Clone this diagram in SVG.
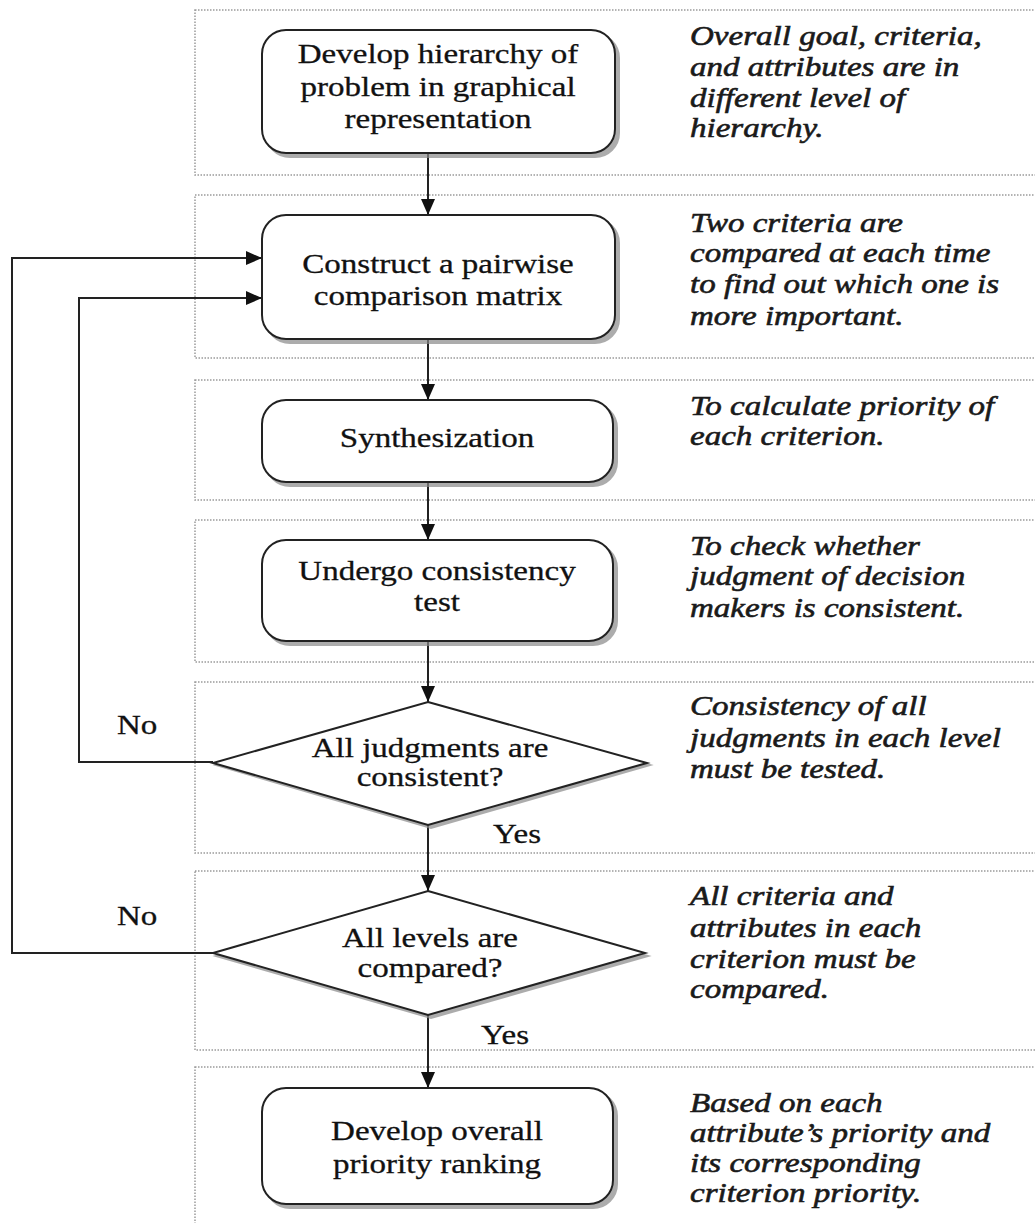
<svg xmlns="http://www.w3.org/2000/svg" width="1035" height="1223" viewBox="0 0 1035 1223">
<style>
.panel{fill:none;stroke:#9a9a9a;stroke-width:1.5;stroke-dasharray:1.5 1.5}
.box{fill:#fff;stroke:#222;stroke-width:2}
.shadow{fill:#8a8a8a;stroke:#8a8a8a;stroke-width:2;opacity:0.7}
.conn{fill:none;stroke:#222;stroke-width:2}
.nt{font-family:"Liberation Serif","Times New Roman",serif;font-size:28px;fill:#111;stroke:#111;stroke-width:0.3;text-anchor:middle}
.lbl{font-family:"Liberation Serif","Times New Roman",serif;font-size:28px;fill:#111;stroke:#111;stroke-width:0.3}
.note{font-family:"Liberation Serif","Times New Roman",serif;font-size:28px;font-style:italic;fill:#1a1a1a;stroke:#1a1a1a;stroke-width:0.6}
</style>
<defs>
<marker id="arr" markerWidth="16" markerHeight="14" refX="16" refY="7" orient="auto" markerUnits="userSpaceOnUse">
<path d="M0,0 L16,7 L0,14 Z" fill="#111"/>
</marker>
</defs>
<rect width="1035" height="1223" fill="#fff"/>
<g id="panels">
<rect class="panel" x="195" y="10" width="860" height="165"/>
<rect class="panel" x="195" y="195" width="860" height="163"/>
<rect class="panel" x="195" y="380" width="860" height="120"/>
<rect class="panel" x="195" y="520" width="860" height="142"/>
<rect class="panel" x="195" y="682" width="860" height="171"/>
<rect class="panel" x="195" y="871" width="860" height="179"/>
<rect class="panel" x="195" y="1067" width="860" height="180"/>
</g>
<g id="connectors">
<line class="conn" x1="428" y1="153" x2="428" y2="215" marker-end="url(#arr)"/>
<line class="conn" x1="428" y1="340" x2="428" y2="400" marker-end="url(#arr)"/>
<line class="conn" x1="428" y1="482" x2="428" y2="540" marker-end="url(#arr)"/>
<line class="conn" x1="428" y1="641" x2="428" y2="702" marker-end="url(#arr)"/>
<line class="conn" x1="428" y1="825" x2="428" y2="891" marker-end="url(#arr)"/>
<line class="conn" x1="428" y1="1015" x2="428" y2="1088" marker-end="url(#arr)"/>
<polyline class="conn" points="213,762 79,762 79,298 262,298" marker-end="url(#arr)"/>
<polyline class="conn" points="213,953 12,953 12,258 262,258" marker-end="url(#arr)"/>
</g>
<g id="node1">
<rect class="shadow" x="266" y="34" width="353" height="123" rx="24"/>
<rect class="box" x="262" y="30" width="353" height="123" rx="24"/>
<g transform="translate(438,0) scale(1.18,1)">
<text class="nt" x="0" y="63">Develop hierarchy of</text>
<text class="nt" x="0" y="96">problem in graphical</text>
<text class="nt" x="0" y="128">representation</text>
</g>
</g>
<g id="node2">
<rect class="shadow" x="266" y="219" width="353" height="124" rx="24"/>
<rect class="box" x="262" y="215" width="353" height="124" rx="24"/>
<g transform="translate(438,0) scale(1.18,1)">
<text class="nt" x="0" y="273">Construct a pairwise</text>
<text class="nt" x="0" y="305">comparison matrix</text>
</g>
</g>
<g id="node3">
<rect class="shadow" x="266" y="404" width="351" height="82" rx="24"/>
<rect class="box" x="262" y="400" width="351" height="82" rx="24"/>
<g transform="translate(437,0) scale(1.18,1)">
<text class="nt" x="0" y="447">Synthesization</text>
</g>
</g>
<g id="node4">
<rect class="shadow" x="266" y="544" width="351" height="101" rx="24"/>
<rect class="box" x="262" y="540" width="351" height="101" rx="24"/>
<g transform="translate(437,0) scale(1.18,1)">
<text class="nt" x="0" y="580">Undergo consistency</text>
<text class="nt" x="0" y="611">test</text>
</g>
</g>
<g id="node5">
<polygon class="shadow" points="429,705 650,765 431,828 216,765"/>
<polygon class="box" points="428,702 647,763 428,825 213,763"/>
<g transform="translate(430,0) scale(1.18,1)">
<text class="nt" x="0" y="757">All judgments are</text>
<text class="nt" x="0" y="786">consistent?</text>
</g>
</g>
<g id="node6">
<polygon class="shadow" points="429,894 648,956 431,1018 216,956"/>
<polygon class="box" points="428,891 645,953 428,1015 213,953"/>
<g transform="translate(430,0) scale(1.18,1)">
<text class="nt" x="0" y="947">All levels are</text>
<text class="nt" x="0" y="977">compared?</text>
</g>
</g>
<g id="node7">
<rect class="shadow" x="266" y="1092" width="351" height="116" rx="24"/>
<rect class="box" x="262" y="1088" width="351" height="116" rx="24"/>
<g transform="translate(437,0) scale(1.18,1)">
<text class="nt" x="0" y="1140">Develop overall</text>
<text class="nt" x="0" y="1173">priority ranking</text>
</g>
</g>
<g id="labels">
<g transform="translate(117,0) scale(1.18,1)"><text class="lbl" x="0" y="734">No</text></g>
<g transform="translate(117,0) scale(1.18,1)"><text class="lbl" x="0" y="925">No</text></g>
<g transform="translate(493,0) scale(1.18,1)"><text class="lbl" x="0" y="843">Yes</text></g>
<g transform="translate(481,0) scale(1.18,1)"><text class="lbl" x="0" y="1044">Yes</text></g>
</g>
<g id="notes" transform="translate(690,0) scale(1.18,1)">
<text class="note" x="0" y="45">Overall goal, criteria,</text>
<text class="note" x="0" y="76">and attributes are in</text>
<text class="note" x="0" y="107">different level of</text>
<text class="note" x="0" y="137">hierarchy.</text>
<text class="note" x="0" y="232">Two criteria are</text>
<text class="note" x="0" y="262">compared at each time</text>
<text class="note" x="0" y="293">to find out which one is</text>
<text class="note" x="0" y="325">more important.</text>
<text class="note" x="0" y="415">To calculate priority of</text>
<text class="note" x="0" y="445">each criterion.</text>
<text class="note" x="0" y="555">To check whether</text>
<text class="note" x="0" y="585">judgment of decision</text>
<text class="note" x="0" y="617">makers is consistent.</text>
<text class="note" x="0" y="715">Consistency of all</text>
<text class="note" x="0" y="747">judgments in each level</text>
<text class="note" x="0" y="778">must be tested.</text>
<text class="note" x="0" y="905">All criteria and</text>
<text class="note" x="0" y="937">attributes in each</text>
<text class="note" x="0" y="968">criterion must be</text>
<text class="note" x="0" y="998">compared.</text>
<text class="note" x="0" y="1112">Based on each</text>
<text class="note" x="0" y="1142">attribute’s priority and</text>
<text class="note" x="0" y="1172">its corresponding</text>
<text class="note" x="0" y="1202">criterion priority.</text>
</g>
</svg>
